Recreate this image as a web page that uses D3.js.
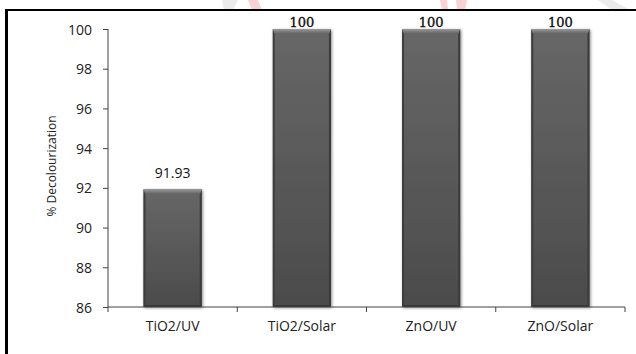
<!DOCTYPE html>
<html>
<head>
<meta charset="utf-8">
<script src="https://cdn.jsdelivr.net/npm/d3@7"></script>
<style>
  html, body { margin: 0; padding: 0; background: #fff; overflow: hidden; }
  svg { display: block; }
  .tick text { font-family: "Open Sans", sans-serif; font-size: 14px; fill: #222; }
</style>
</head>
<body>
<svg id="chart" width="636" height="354"></svg>
<script>
// Photocatalyst / light source combinations and their decolourization (%)
const categories = ["TiO2/UV", "TiO2/Solar", "ZnO/UV", "ZnO/Solar"];
const decolourization = [91.93, 100, 100, 100];
const yTicks = [86, 88, 90, 92, 94, 96, 98, 100];

const svg = d3.select("#chart");
const W = 636, H = 354;
const plot = { left: 108, right: 625, top: 29, bottom: 307 };

// Faint background mark along the top edge
const wm = svg.append("g").attr("opacity", 0.5);
wm.append("path").attr("d", "M222,0L238,0L233,10L224,10Z").attr("fill", "#d8d8d8");
wm.append("path").attr("d", "M248,0L258,0L262,10L252,10Z").attr("fill", "#f4a8a8");
wm.append("path").attr("d", "M440,0L447,0L448,10L442,10Z").attr("fill", "#f4a8a8");
wm.append("path").attr("d", "M456,0L467,0L465,10L457,10Z").attr("fill", "#f4a8a8");
wm.append("path").attr("d", "M598,0L612,0L630,10L612,10Z").attr("fill", "#d8d8d8");

// Outer chart frame (continues past the right and bottom edges)
svg.append("line").attr("x1", 6.5).attr("x2", W).attr("y1", 10).attr("y2", 10)
  .attr("stroke", "#000").attr("stroke-width", 2);
svg.append("line").attr("x1", 6.5).attr("x2", 6.5).attr("y1", 9).attr("y2", H)
  .attr("stroke", "#000").attr("stroke-width", 3);

const x = d3.scaleBand()
  .domain(categories)
  .range([plot.left, plot.right])
  .paddingInner(0.55)
  .paddingOuter(0.275);

const y = d3.scaleLinear()
  .domain([86, 100])
  .range([plot.bottom, plot.top]);

const defs = svg.append("defs");
const body = defs.append("linearGradient").attr("id", "barBody")
  .attr("x1", 0).attr("x2", 0).attr("y1", 0).attr("y2", 1);
body.append("stop").attr("offset", "0%").attr("stop-color", "#676767");
body.append("stop").attr("offset", "100%").attr("stop-color", "#4b4b4b");

const bevel = defs.append("linearGradient").attr("id", "barBevel")
  .attr("x1", 0).attr("x2", 0).attr("y1", 0).attr("y2", 1);
bevel.append("stop").attr("offset", "0%").attr("stop-color", "#9a9a9a");
bevel.append("stop").attr("offset", "100%").attr("stop-color", "#606060");

const shadow = defs.append("filter").attr("id", "barShadow")
  .attr("x", "-20%").attr("y", "-10%").attr("width", "140%").attr("height", "120%");
shadow.append("feGaussianBlur").attr("in", "SourceAlpha").attr("stdDeviation", 1.6).attr("result", "b");
shadow.append("feOffset").attr("in", "b").attr("dx", 1).attr("dy", 1).attr("result", "o");
shadow.append("feComponentTransfer").attr("in", "o").attr("result", "s")
  .append("feFuncA").attr("type", "linear").attr("slope", 0.45);
const merge = shadow.append("feMerge");
merge.append("feMergeNode").attr("in", "s");
merge.append("feMergeNode").attr("in", "SourceGraphic");

const data = categories.map((c, i) => ({ cat: c, val: decolourization[i] }));
const bw = x.bandwidth();
const bev = 5, edge = 2;

const bars = svg.append("g").selectAll("g.bar").data(data).join("g")
  .attr("class", "bar")
  .attr("filter", "url(#barShadow)");

bars.append("rect")
  .attr("x", d => x(d.cat))
  .attr("y", d => y(d.val))
  .attr("width", bw)
  .attr("height", d => y(86) - y(d.val))
  .attr("fill", "url(#barBody)");

// left and right edge shading
bars.append("path")
  .attr("d", d => {
    const x0 = x(d.cat), t = y(d.val), b = y(86);
    return `M${x0},${t}L${x0 + edge},${t + bev}L${x0 + edge},${b - edge}L${x0},${b}Z`;
  })
  .attr("fill", "#3e3e3e");
bars.append("path")
  .attr("d", d => {
    const x1 = x(d.cat) + bw, t = y(d.val), b = y(86);
    return `M${x1},${t}L${x1 - edge},${t + bev}L${x1 - edge},${b - edge}L${x1},${b}Z`;
  })
  .attr("fill", "#3a3a3a");
// bottom edge
bars.append("path")
  .attr("d", d => {
    const x0 = x(d.cat), x1 = x0 + bw, b = y(86);
    return `M${x0},${b}L${x0 + edge},${b - edge}L${x1 - edge},${b - edge}L${x1},${b}Z`;
  })
  .attr("fill", "#383838");
// top bevel
bars.append("path")
  .attr("d", d => {
    const x0 = x(d.cat), x1 = x0 + bw, t = y(d.val);
    return `M${x0},${t}L${x1},${t}L${x1 - edge},${t + bev}L${x0 + edge},${t + bev}Z`;
  })
  .attr("fill", "url(#barBevel)");

// Axes
const yAxis = svg.append("g")
  .attr("transform", `translate(${plot.left},0)`)
  .call(d3.axisLeft(y).tickValues(yTicks).tickSize(5).tickPadding(11));
const xAxis = svg.append("g")
  .attr("transform", `translate(0,${plot.bottom})`)
  .call(d3.axisBottom(x).tickSize(0).tickPadding(14));
[yAxis, xAxis].forEach(g => {
  g.select(".domain").attr("stroke", "#404040");
  g.selectAll(".tick line").attr("stroke", "#404040");
});
xAxis.select(".domain").attr("d", `M${plot.left},0H${plot.right}`);
yAxis.select(".domain").attr("d", `M0,${plot.bottom}V${plot.top}`);
yAxis.selectAll(".tick text").attr("dy", "0.36em");

// tick marks on the category axis sit at the band boundaries
const step = x.step();
xAxis.append("g").selectAll("line")
  .data(d3.range(categories.length + 1))
  .join("line")
  .attr("x1", i => plot.left + i * step).attr("x2", i => plot.left + i * step)
  .attr("y1", 0).attr("y2", 5)
  .attr("stroke", "#404040");

// Axis title
svg.append("text")
  .attr("transform", "translate(56,166) rotate(-90)")
  .attr("text-anchor", "middle")
  .attr("font-family", "Open Sans, sans-serif")
  .attr("font-size", 12)
  .attr("fill", "#222")
  .text("% Decolourization");

// Value labels: placed above the bar, held inside the chart's top margin
const labelTop = 27;
svg.append("g").selectAll("text").data(data).join("text")
  .each(function (d) {
    const want = y(d.val) - 11;
    const clamped = want < labelTop;
    d3.select(this)
      .attr("x", x(d.cat) + bw / 2)
      .attr("y", clamped ? labelTop : want)
      .attr("text-anchor", "middle")
      .attr("font-family", clamped ? "DejaVu Serif, serif" : "Open Sans, sans-serif")
      .attr("font-size", clamped ? 13 : 14)
      .attr("fill", "#111")
      .attr("stroke", clamped ? "#111" : "none")
      .attr("stroke-width", 0.35)
      .text(d.val);
  });
</script>
</body>
</html>
